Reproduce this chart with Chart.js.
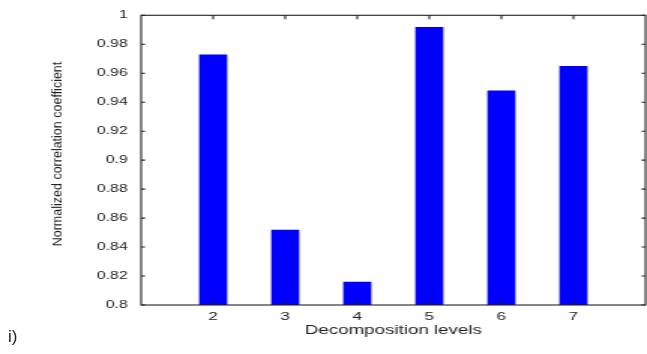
<!DOCTYPE html>
<html>
<head>
<meta charset="utf-8">
<script src="https://cdn.jsdelivr.net/npm/chart.js@4"></script>
<style>
  html, body { margin: 0; padding: 0; background: #fff; overflow: hidden; }
  #wrap { position: absolute; left: 0; top: 0; width: 431px; height: 354px;
          transform: scaleX(1.50116); transform-origin: 0 0; }
  #panel { position: absolute; left: 8px; top: 327px; font: 17px "Liberation Sans", Arial, sans-serif; color: #222; }
</style>
</head>
<body>
<div id="wrap"><canvas id="myChart" width="431" height="354"></canvas></div>
<div id="panel">i)</div>
<script>
// the source figure is stretched sideways, so the chart is drawn narrow and widened by CSS
const stretch = 647 / 431;

const levels = [2, 3, 4, 5, 6, 7];
const coefficients = [0.973, 0.852, 0.816, 0.992, 0.948, 0.965];
const yMin = 0.8;
const yMax = 1;
const yStep = 0.02;
const yTitle = "Normalized correlation coefficient";
const xTitle = "Decomposition levels";

const ink = "#222";

// matlab style box with ticks pointing inwards, plus the unstretched y title
const boxPlugin = {
    id: "box",
    afterDatasetsDraw(chart) {
        const { ctx, chartArea: a, scales } = chart;
        const hLen = 4 / stretch;
        const vLen = 4;
        ctx.save();
        ctx.strokeStyle = ink;
        ctx.lineWidth = 1.1;
        ctx.strokeRect(a.left, a.top, a.right - a.left, a.bottom - a.top);
        ctx.beginPath();
        scales.y.ticks.forEach((t) => {
            const py = scales.y.getPixelForValue(t.value);
            ctx.moveTo(a.left, py);
            ctx.lineTo(a.left + hLen, py);
            ctx.moveTo(a.right, py);
            ctx.lineTo(a.right - hLen, py);
        });
        scales.x.ticks.forEach((t) => {
            const px = scales.x.getPixelForValue(t.value);
            ctx.moveTo(px, a.top);
            ctx.lineTo(px, a.top + vLen);
            ctx.moveTo(px, a.bottom);
            ctx.lineTo(px, a.bottom - vLen);
        });
        ctx.stroke();

        ctx.translate(58 / stretch, 154);
        ctx.scale(1 / stretch, 1);
        ctx.rotate(-Math.PI / 2);
        ctx.fillStyle = ink;
        ctx.font = '12.5px "Liberation Sans", Arial, sans-serif';
        ctx.textAlign = "center";
        ctx.textBaseline = "middle";
        ctx.fillText(yTitle, 0, 0);
        ctx.restore();
    },
};

const config = {
    type: "bar",
    data: {
        datasets: [
            {
                label: "Correlation",
                data: levels.map((lv, i) => ({ x: lv, y: coefficients[i] })),
                backgroundColor: "#0000ff",
                borderWidth: 0,
                barPercentage: 0.39,
                categoryPercentage: 1,
            },
        ],
    },
    options: {
        responsive: false,
        animation: false,
        events: [],
        layout: { padding: { left: 0, right: 1, top: 14, bottom: 0 } },
        plugins: {
            legend: { display: false },
            tooltip: { enabled: false },
        },
        scales: {
            x: {
                type: "linear",
                min: 1,
                max: 8,
                offset: false,
                grid: { display: false, drawTicks: false },
                border: { display: false },
                afterBuildTicks: (scale) => {
                    scale.ticks = levels.map((v) => ({ value: v }));
                },
                afterFit: (scale) => {
                    scale.height = 49;
                },
                ticks: {
                    padding: 5,
                    color: ink,
                    font: { family: '"Liberation Sans", Arial, sans-serif', size: 11.5 },
                    callback: (v) => String(v),
                },
                title: {
                    display: true,
                    text: xTitle,
                    color: ink,
                    font: { family: '"Liberation Sans", Arial, sans-serif', size: 12.5 },
                    padding: { top: 0, bottom: 16 },
                },
            },
            y: {
                min: yMin,
                max: yMax,
                grid: { display: false, drawTicks: false },
                border: { display: false },
                afterFit: (scale) => {
                    scale.width = 94;
                },
                ticks: {
                    stepSize: yStep,
                    padding: 9,
                    color: ink,
                    font: { family: '"Liberation Sans", Arial, sans-serif', size: 10.5 },
                    callback: (v) => String(parseFloat(v.toFixed(2))),
                },
            },
        },
    },
    plugins: [boxPlugin],
};

const ctx = document.getElementById("myChart").getContext("2d");
const myChart = new Chart(ctx, config);
</script>
</body>
</html>
